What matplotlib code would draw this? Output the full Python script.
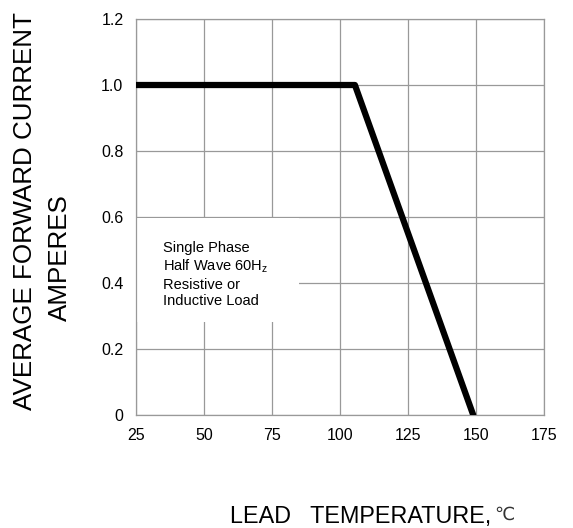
import matplotlib.pyplot as plt
from matplotlib.patches import Rectangle

plt.rcParams['font.family'] = ['Liberation Sans', 'DejaVu Sans']

# derating curve
temp = [25, 105.5, 149]
current = [1.0, 1.0, 0.0]

xticks = [25, 50, 75, 100, 125, 150, 175]
yticks = [0, 0.2, 0.4, 0.6, 0.8, 1.0, 1.2]
ylabels = ['0', '0.2', '0.4', '0.6', '0.8', '1.0', '1.2']

fig = plt.figure(figsize=(5.73, 5.28), dpi=100)
ax = fig.add_axes([0.2373, 0.214, 0.712, 0.75])

ax.set_xlim(25, 175)
ax.set_ylim(0, 1.2)
ax.set_xticks(xticks)
ax.set_yticks(yticks)
ax.set_yticklabels(ylabels)
ax.tick_params(length=0, labelsize=11.5)
ax.tick_params(axis='y', pad=9)
ax.tick_params(axis='x', pad=9)
ax.grid(True, color='#999999', linewidth=0.9)
ax.set_axisbelow(True)
for s in ax.spines.values():
    s.set_color('#999999')
    s.set_linewidth(0.9)

# white box behind the note hides the grid
ax.add_patch(Rectangle((25.3, 0.282), 59.6, 0.314, facecolor='white',
                       edgecolor='none', zorder=1.5))
ax.text(35, 0.426, 'Single Phase\nHalf Wave 60H$_{\\mathregular{z}}$\nResistive or\nInductive Load',
        fontsize=10.5, va='center', ha='left', linespacing=1.22, zorder=2)

ax.plot(temp, current, color='black', linewidth=4.5, solid_capstyle='round',
        zorder=3)

fig.text(0.044, 0.6, 'AVERAGE FORWARD CURRENT', rotation=90, fontsize=18.7,
         ha='center', va='center')
fig.text(0.105, 0.512, 'AMPERES', rotation=90, fontsize=18.7,
         ha='center', va='center')
fig.text(230 / 573, 0.022, 'LEAD   TEMPERATURE,', fontsize=16.8,
         ha='left', va='center')
fig.text(504 / 573, 0.024, '℃', fontsize=13, ha='center', va='center',
         color='#333333')

fig.savefig('out.png', dpi=100)
